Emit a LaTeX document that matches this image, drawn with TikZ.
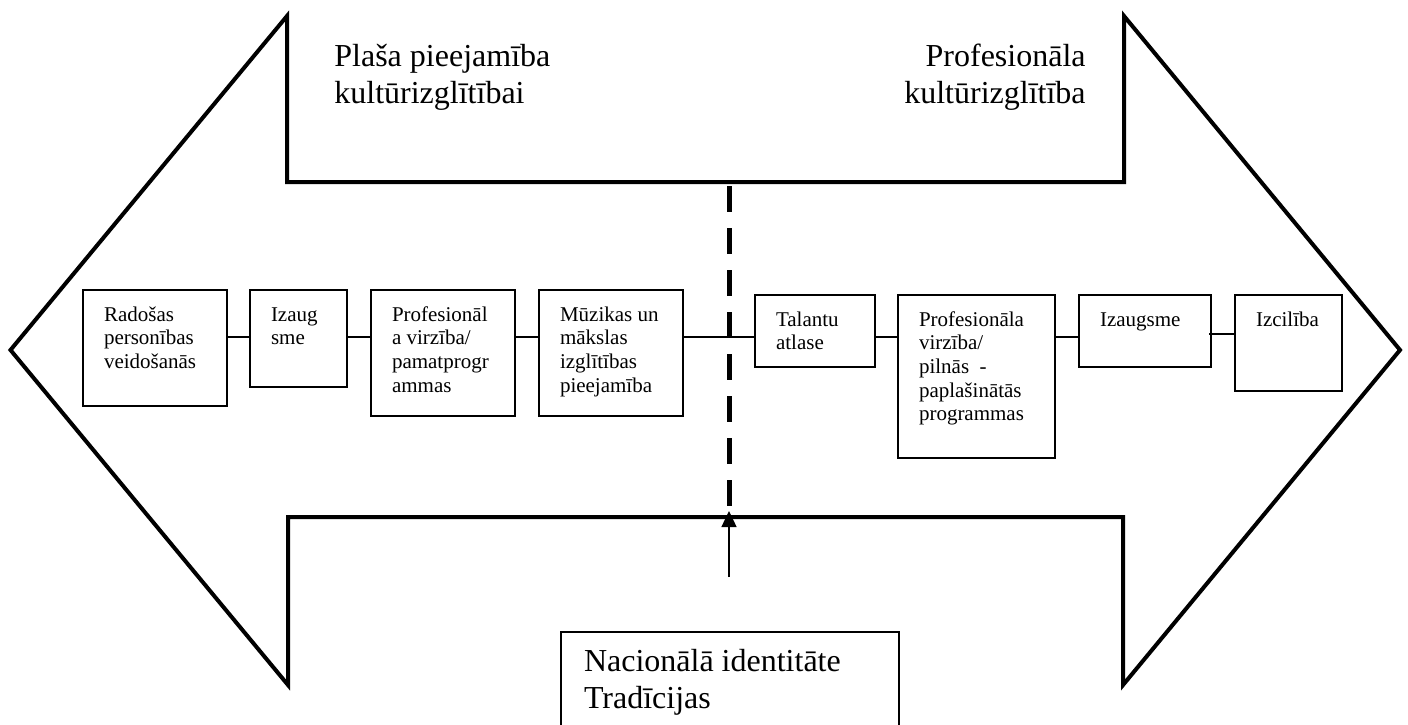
\documentclass[tikz,border=0pt]{standalone}
\usepackage{fontspec}
\setmainfont{Liberation Serif}
\usetikzlibrary{arrows.meta}

% fixed-size, top-aligned text body for a box: width, height, lines
\newcommand\boxbody[3]{\begin{minipage}[t][#2][t]{#1}\raggedright\rule{0pt}{15.5pt}#3\end{minipage}}

\begin{document}
\begin{tikzpicture}[x=0.5pt,y=-0.5pt,
  outline/.style={line width=2pt, line join=miter},
  stage/.style={draw, line width=1pt, anchor=north west, inner xsep=10.5pt, inner ysep=0pt,
                font=\fontsize{10.5}{11.85}\selectfont},
  link/.style={line width=0.8pt},
  bigtext/.style={inner sep=0pt, font=\fontsize{16}{18.5}\selectfont},
  divider/.style={line width=2.5pt, dash pattern=on 13pt off 8pt},
]
\useasboundingbox (0,0) rectangle (1408,724);
\clip (0,0) rectangle (1408,724);

% double-headed arrow outline
\coordinate (ltip) at (10.5,350);
\coordinate (rtip) at (1400,350);
\draw[outline] (ltip) -- (287,16) -- (287,182) -- (1124,182) -- (1124,16) -- (rtip)
  -- (1123,685) -- (1123,517) -- (288,517) -- (288,685) -- cycle;

% headings inside the arrow heads
\node[bigtext, anchor=north west, align=left] (headL) at (334,40)
  {\rule{0pt}{13pt}Plaša pieejamība\\kultūrizglītībai};
\node[bigtext, anchor=north east, align=right] (headR) at (1086,40)
  {\rule{0pt}{13pt}Profesionāla\\kultūrizglītība};

% stages
\node[stage] (b1) at (82,289)  {\boxbody{51pt}{58pt}{Radošas\\personības\\veidošanās}};
\node[stage] (b2) at (249,289) {\boxbody{27.5pt}{48.5pt}{Izaug\\sme}};
\node[stage] (b3) at (370,289) {\boxbody{51pt}{63pt}{Profesionāl\\a virzība/\\pamatprogr\\ammas}};
\node[stage] (b4) at (538,289) {\boxbody{51pt}{63pt}{Mūzikas un\\mākslas\\izglītības\\pieejamība}};
\node[stage] (b5) at (754,294) {\boxbody{39pt}{36pt}{Talantu\\atlase}};
\node[stage] (b6) at (897,294) {\boxbody{57.5pt}{81.5pt}{Profesionāla\\virzība/\\pilnās \ -\\paplašinātās\\programmas}};
\node[stage] (b7) at (1078,294) {\boxbody{45pt}{36pt}{Izaugsme}};
\node[stage] (b8) at (1234,294) {\boxbody{32.5pt}{48pt}{Izcilība}};

% connectors between stages
\coordinate (row) at (0,337);
\coordinate (row2) at (0,334);
\draw[link] (b1.east |- row) -- (b2.west |- row);
\draw[link] (b2.east |- row) -- (b3.west |- row);
\draw[link] (b3.east |- row) -- (b4.west |- row);
\draw[link] (b4.east |- row) -- (b5.west |- row);
\draw[link] (b5.east |- row) -- (b6.west |- row);
\draw[link] (b6.east |- row) -- (b7.west |- row);
\draw[link] ([xshift=-1.5pt]b7.east |- row2) -- (b8.west |- row2);

% dashed divider
\coordinate (dtop) at (729,186);
\coordinate (dbot) at (729,506);
\draw[divider] (dtop) -- (dbot);

% national identity box and its arrow
\node[draw, line width=1pt, anchor=north west, inner xsep=11.5pt, inner ysep=0pt,
      font=\fontsize{16}{18.5}\selectfont] (nat) at (560,631)
  {\begin{minipage}[t][60pt][t]{146pt}\rule{0pt}{19.5pt}Nacionālā identitāte\\Tradīcijas\end{minipage}};
\coordinate (src) at (729,577);
\coordinate (tip) at (729,511);
\draw[line width=0.7pt, -{Triangle[length=8pt,width=7.5pt]}] (src) -- (tip);
\end{tikzpicture}
\end{document}
